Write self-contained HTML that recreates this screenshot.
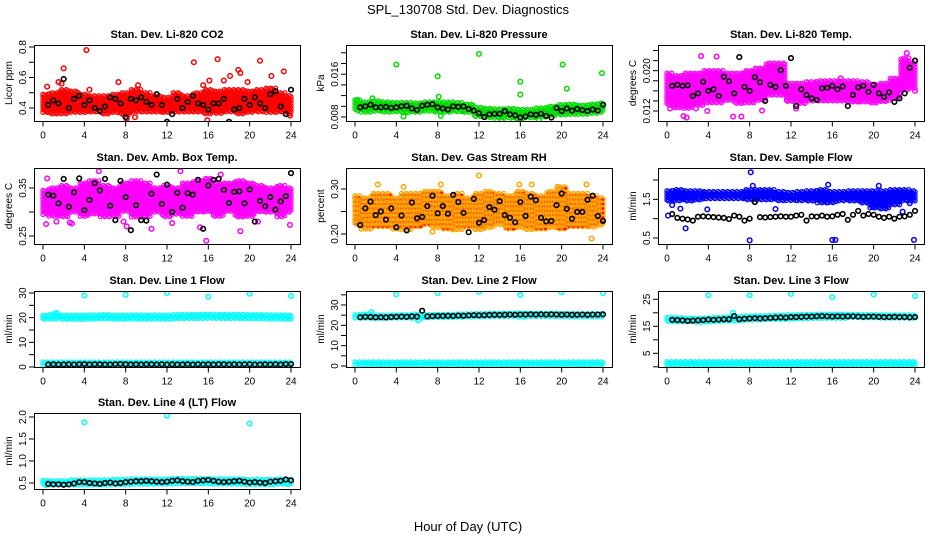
<!DOCTYPE html>
<html><head><meta charset="utf-8"><title>SPL_130708 Std. Dev. Diagnostics</title>
<style>
html,body{margin:0;padding:0;background:#fff;}
svg{display:block;font-family:"Liberation Sans",Arial,sans-serif;}
</style></head>
<body>
<svg id="chart" width="936" height="540" viewBox="0 0 936 540">
<text x="468" y="14" text-anchor="middle" font-size="13">SPL_130708  Std. Dev. Diagnostics</text>
<text x="468" y="531" text-anchor="middle" font-size="13">Hour of Day (UTC)</text>
</svg>
<script>
// ---------- data ----------
const hours = [0,4,8,12,16,20,24];

const co2Lo = [0.37,0.36,0.36,0.37,0.37,0.37,0.36,0.37,0.35,0.37,0.37,0.37,0.37,0.37,0.37,0.37,0.36,0.36,0.37,0.36,0.37,0.37,0.37,0.37,0.36];
const co2Hi = [0.49,0.50,0.52,0.51,0.49,0.48,0.48,0.49,0.50,0.52,0.50,0.48,0.47,0.50,0.48,0.50,0.52,0.51,0.52,0.52,0.51,0.52,0.53,0.50,0.48];
const co2Out = [[0.4,0.54],[1.5,0.57],[1.8,0.56],[2.0,0.66],[4.2,0.78],[4.5,0.52],[7.3,0.57],[8.1,0.33],[8.9,0.34],[9.2,0.55],[14.6,0.70],[15.5,0.55],[15.9,0.32],[16.1,0.58],[16.9,0.72],[17.5,0.58],[18.1,0.61],[18.9,0.65],[19.1,0.63],[19.8,0.57],[21.0,0.71],[22.1,0.61],[23.3,0.64],[23.9,0.35]];
const co2Black = [0.42,0.45,0.43,0.59,0.40,0.46,0.48,0.42,0.45,0.40,0.38,0.41,0.47,0.46,0.43,0.34,0.46,0.45,0.47,0.44,0.42,0.49,0.42,0.31,0.36,0.46,0.40,0.44,0.48,0.43,0.42,0.39,0.43,0.43,0.46,0.31,0.39,0.40,0.46,0.42,0.47,0.43,0.40,0.49,0.51,0.41,0.36,0.52];

const presLo = [.0090,.0088,.0090,.0088,.0090,.0088,.0088,.0090,.0089,.0088,.0089,.0088,.0080,.0079,.0078,.0078,.0077,.0078,.0080,.0082,.0084,.0085,.0085,.0087,.0088];
const presHi = [.0112,.0108,.0110,.0108,.0107,.0107,.0106,.0108,.0108,.0108,.0107,.0104,.0098,.0096,.0095,.0096,.0094,.0094,.0097,.0100,.0103,.0104,.0102,.0104,.0106];
const presOut = [[4,0.0178],[8,0.0156],[8.1,0.0118],[12,0.0198],[16,0.0146],[16,0.0122],[20.1,0.0178],[20.5,0.0133],[23.9,0.0162],[1.7,0.0115],[0.2,0.0112],[14.2,0.0073],[15.3,0.0073],[17.8,0.0074],[8.3,0.0082],[4.7,0.0081]];
const presBlack = [0.0098,0.0100,0.0103,0.0098,0.0098,0.0099,0.0097,0.0098,0.0100,0.0101,0.0096,0.0093,0.0101,0.0103,0.0104,0.0098,0.0096,0.0094,0.0100,0.0099,0.0100,0.0095,0.0092,0.0087,0.0080,0.0085,0.0086,0.0086,0.0091,0.0085,0.0083,0.0079,0.0081,0.0085,0.0084,0.0086,0.0082,0.0079,0.0097,0.0091,0.0096,0.0092,0.0095,0.0093,0.0091,0.0094,0.0092,0.0103];

const tempLo = [.0130,.0125,.0125,.0130,.0135,.0135,.0140,.0135,.0135,.0140,.0150,.0150,.0138,.0135,.0140,.0140,.0140,.0140,.0138,.0138,.0135,.0138,.0145,.0160,.0165];
const tempHi = [.0195,.0190,.0195,.0195,.0200,.0200,.0195,.0195,.0200,.0205,.0215,.0215,.0175,.0175,.0178,.0180,.0180,.0180,.0180,.0178,.0172,.0175,.0185,.0225,.0215];
const tempOut = [[0.3,0.0125],[1.6,0.0110],[1.9,0.0107],[3.3,0.0229],[4.8,0.0228],[6.4,0.0109],[7.2,0.0109],[8.2,0.0155],[9.2,0.0121],[12.5,0.0125],[16.8,0.0185],[23.2,0.0235],[24,0.0160],[2.8,0.0125],[3.9,0.0120]];
const tempBlack = [0.0170,0.0172,0.0170,0.0171,0.0150,0.0155,0.0178,0.0160,0.0163,0.0150,0.0188,0.0179,0.0155,0.0227,0.0168,0.0160,0.0187,0.0177,0.0140,0.0172,0.0168,0.0201,0.0170,0.0225,0.0130,0.0163,0.0152,0.0145,0.0142,0.0165,0.0166,0.0170,0.0163,0.0169,0.0130,0.0152,0.0167,0.0170,0.0158,0.0172,0.0155,0.0148,0.0157,0.0138,0.0145,0.0155,0.0206,0.0220];

const ambLo = [0.295,0.29,0.29,0.30,0.29,0.295,0.29,0.29,0.30,0.29,0.29,0.30,0.29,0.295,0.29,0.30,0.30,0.29,0.30,0.29,0.29,0.30,0.30,0.29,0.30];
const ambHi = [0.345,0.35,0.355,0.35,0.36,0.365,0.355,0.35,0.36,0.365,0.36,0.35,0.355,0.35,0.36,0.365,0.37,0.36,0.36,0.365,0.36,0.355,0.35,0.355,0.35];
const ambOut = [[0.3,0.275],[1.3,0.28],[2.6,0.278],[2.8,0.276],[5.4,0.385],[7.8,0.28],[8.1,0.27],[10.5,0.265],[12.5,0.277],[13.3,0.385],[15.2,0.268],[15.8,0.24],[17.2,0.378],[19.1,0.26],[20.8,0.28],[23.9,0.273],[0.4,0.37]];
const ambBlack = [0.336,0.334,0.318,0.369,0.311,0.341,0.370,0.304,0.325,0.360,0.345,0.369,0.313,0.283,0.365,0.331,0.262,0.314,0.283,0.282,0.338,0.378,0.317,0.357,0.300,0.340,0.309,0.339,0.336,0.367,0.265,0.355,0.367,0.369,0.346,0.319,0.342,0.343,0.318,0.347,0.280,0.323,0.312,0.331,0.305,0.322,0.333,0.381];

const rhLo = [0.22,0.21,0.215,0.215,0.21,0.21,0.215,0.22,0.215,0.21,0.21,0.215,0.21,0.215,0.22,0.21,0.215,0.21,0.21,0.215,0.21,0.215,0.215,0.215,0.22];
const rhHi = [0.285,0.28,0.29,0.29,0.28,0.29,0.29,0.295,0.295,0.285,0.29,0.28,0.29,0.295,0.29,0.285,0.295,0.29,0.285,0.295,0.305,0.29,0.29,0.285,0.28];
const rhOut = [[2.2,0.31],[4.7,0.305],[8.3,0.31],[9.5,0.21],[12,0.33],[15.9,0.31],[17.1,0.31],[19.6,0.305],[22.4,0.31],[22.9,0.19],[7.5,0.205]];
const rhBlack = [0.22,0.257,0.272,0.242,0.250,0.232,0.257,0.215,0.241,0.208,0.270,0.235,0.238,0.262,0.285,0.246,0.262,0.245,0.287,0.271,0.247,0.204,0.278,0.225,0.231,0.260,0.254,0.273,0.242,0.236,0.226,0.271,0.240,0.283,0.275,0.236,0.228,0.229,0.264,0.290,0.256,0.234,0.249,0.249,0.276,0.285,0.240,0.229];

const sfLo = [1.45,1.45,1.45,1.48,1.50,1.50,1.50,1.50,1.48,1.48,1.48,1.45,1.45,1.45,1.45,1.40,1.40,1.45,1.45,1.40,1.28,1.25,1.35,1.45,1.45];
const sfHi = [1.72,1.75,1.72,1.72,1.70,1.70,1.70,1.70,1.75,1.75,1.75,1.70,1.68,1.70,1.72,1.75,1.70,1.70,1.72,1.72,1.72,1.72,1.75,1.75,1.72];
const sfOut = [[0.1,1.08],[0.5,1.35],[1.3,1.26],[1.8,0.75],[3.9,1.24],[8,0.44],[8.1,2.2],[8.3,1.85],[10.5,1.25],[16,0.45],[16.3,0.45],[15.6,1.88],[19.9,1.30],[20.5,1.85],[22.8,1.18],[23.9,0.45],[23.5,1.40]];
const sfBlack = [1.12,1.02,1.00,0.98,0.95,1.05,1.06,1.05,1.04,1.03,1.02,0.99,1.08,1.05,0.95,1.00,1.43,1.04,1.03,1.04,1.05,1.06,1.05,1.05,1.08,1.10,0.95,1.06,1.05,1.08,1.05,1.06,1.10,1.12,0.97,1.10,1.20,1.08,1.12,1.10,1.05,1.02,1.05,1.00,1.05,1.06,1.10,1.20];

const l1HighLo = [19.3,19.2,19.2,19.3,19.2,19.3,19.2,19.1,19.2,19.2,19.2,19.3,19.2,19.3,19.4,19.4,19.5,19.4,19.4,19.4,19.3,19.3,19.3,19.3,19.3];
const l1HighHi = [21.0,21.5,21.0,21.0,21.0,21.1,21.2,21.0,21.0,21.1,21.0,21.1,21.0,21.2,21.3,21.3,21.4,21.3,21.3,21.3,21.2,21.2,21.1,21.1,21.0];
const l1LowLo = [0.4,0.4,0.4,0.4,0.4,0.4,0.4,0.4,0.4,0.4,0.4,0.4,0.4,0.4,0.4,0.4,0.4,0.4,0.4,0.4,0.4,0.4,0.4,0.4,0.4];
const l1LowHi = [2.0,2.0,2.0,2.0,2.0,2.0,2.0,2.0,2.0,2.0,2.0,2.0,2.0,2.0,2.0,2.0,2.0,2.0,2.0,2.0,2.0,2.0,2.0,2.0,2.0];
const l1Out = [[1.3,22],[4,29],[8,29.3],[12,30],[16,28.5],[20,29.7],[24,28.8]];
const l1Black = [1.0,1.1,1.0,1.0,1.1,1.0,1.1,1.2,1.0,1.1,1.1,1.0,1.0,1.1,1.2,1.1,1.0,1.1,1.0,1.1,1.1,1.0,1.1,1.0,1.1,1.0,1.0,1.1,1.0,1.1,1.0,1.1,1.0,1.1,1.1,1.0,1.1,1.0,1.1,1.1,1.0,1.0,1.1,1.0,1.1,1.0,1.2,1.2];

const l2HighLo = [23.4,23.4,23.3,23.3,23.5,23.5,23.4,23.6,23.6,23.7,23.7,23.8,23.9,23.9,24.0,24.0,24.0,24.0,24.0,24.0,23.9,23.9,23.9,23.9,23.9];
const l2HighHi = [25.2,25.5,25.0,25.0,25.1,25.2,25.5,25.3,25.4,25.4,25.5,25.6,25.7,25.8,25.9,25.9,26.0,25.9,25.9,25.9,25.8,25.7,25.7,25.7,25.7];
const l2LowLo = [0.4,0.4,0.4,0.4,0.4,0.4,0.4,0.4,0.4,0.4,0.4,0.4,0.4,0.4,0.4,0.4,0.4,0.4,0.4,0.4,0.4,0.4,0.4,0.4,0.4];
const l2LowHi = [2.0,2.0,2.0,2.0,2.0,2.0,2.0,2.0,2.0,2.0,2.0,2.0,2.0,2.0,2.0,2.0,2.0,2.0,2.0,2.0,2.0,2.0,2.0,2.0,2.0];
const l2Out = [[1.6,26.5],[4,35.3],[6.1,22.5],[8,35.8],[12,36.5],[16,35],[20,36.3],[24,35.8]];
const l2Black = [24.0,24.2,24.1,23.9,24.0,23.9,24.1,24.2,24.3,24.2,24.4,24.3,27.2,24.4,24.5,24.6,24.6,24.7,24.6,24.8,24.7,24.9,25.0,24.9,25.0,25.1,25.2,25.1,25.2,25.3,25.2,25.3,25.3,25.4,25.3,25.4,25.3,25.4,25.3,25.2,25.3,25.2,25.2,25.3,25.2,25.3,25.3,25.4];

const l3HighLo = [16.8,16.7,16.6,16.5,16.6,16.8,17.0,17.0,17.3,17.4,17.5,17.6,17.7,17.8,17.9,18.0,18.0,18.0,18.0,17.9,17.9,17.8,17.8,17.8,17.8];
const l3HighHi = [18.3,18.2,18.0,18.0,18.1,18.3,18.5,18.6,18.8,18.9,19.0,19.1,19.2,19.3,19.4,19.5,19.5,19.5,19.4,19.3,19.3,19.2,19.2,19.2,19.2];
const l3LowLo = [0.3,0.3,0.3,0.3,0.3,0.3,0.3,0.3,0.3,0.3,0.3,0.3,0.3,0.3,0.3,0.3,0.3,0.3,0.3,0.3,0.3,0.3,0.3,0.3,0.3];
const l3LowHi = [1.9,1.9,1.9,1.9,1.9,1.9,1.9,1.9,1.9,1.9,1.9,1.9,1.9,1.9,1.9,1.9,1.9,1.9,1.9,1.9,1.9,1.9,1.9,1.9,1.9];
const l3Out = [[4,26.5],[8,26.5],[12,27],[16,25.8],[20,26.8],[24,26.2],[6.4,20]];
const l3Black = [17.4,17.3,17.2,17.0,17.1,17.2,17.3,17.5,17.4,17.5,17.6,17.6,18.8,17.6,17.8,17.9,18.0,17.9,18.0,18.1,18.2,18.3,18.2,18.4,18.4,18.5,18.6,18.6,18.7,18.8,18.7,18.6,18.7,18.6,18.7,18.7,18.6,18.5,18.6,18.6,18.5,18.4,18.4,18.5,18.4,18.4,18.3,18.4];

const l4Lo = [0.44,0.44,0.44,0.45,0.45,0.45,0.45,0.46,0.46,0.47,0.47,0.47,0.47,0.48,0.48,0.48,0.48,0.47,0.47,0.47,0.46,0.46,0.46,0.46,0.46];
const l4Hi = [0.56,0.55,0.55,0.57,0.57,0.57,0.57,0.58,0.58,0.59,0.59,0.59,0.59,0.60,0.60,0.60,0.60,0.59,0.59,0.59,0.58,0.58,0.58,0.59,0.58];
const l4Out = [[4,1.88],[12,2.03],[20,1.85]];
const l4Black = [0.48,0.47,0.47,0.46,0.47,0.49,0.52,0.52,0.50,0.49,0.48,0.50,0.51,0.49,0.50,0.52,0.53,0.54,0.54,0.55,0.54,0.53,0.52,0.53,0.55,0.56,0.54,0.53,0.52,0.55,0.56,0.57,0.55,0.53,0.52,0.53,0.54,0.55,0.53,0.51,0.52,0.51,0.50,0.53,0.54,0.55,0.58,0.56];

// ---------- panel layout ----------
const panels = [
 {name:'co2',title:'Stan. Dev. Li-820 CO2',ylab:'Licor ppm',col:0,row:0,cal:[0.4,108,0.8,47],ticks:[0.4,0.5,0.6,0.7,0.8],labels:[0.4,0.6,0.8],fmt:1,
  bands:[[co2Lo,co2Hi,'#ff0000']],out:co2Out,outColor:'#ff0000',black:co2Black},
 {name:'pressure',title:'Stan. Dev. Li-820 Pressure',ylab:'kPa',col:1,row:0,cal:[0.008,117,0.016,74.2],ticks:[0.008,0.010,0.012,0.014,0.016,0.018,0.020],labels:[0.008,0.016],fmt:3,
  bands:[[presLo,presHi,'#00dd00']],out:presOut,outColor:'#00dd00',black:presBlack},
 {name:'li820-temp',title:'Stan. Dev. Li-820 Temp.',ylab:'degrees C',col:2,row:0,cal:[0.012,111,0.020,70.7],ticks:[0.012,0.014,0.016,0.018,0.020,0.022,0.024],labels:[0.012,0.020],fmt:3,
  bands:[[tempLo,tempHi,'#ff00ff']],out:tempOut,outColor:'#ff00ff',black:tempBlack},
 {name:'amb-box-temp',title:'Stan. Dev. Amb. Box Temp.',ylab:'degrees C',col:0,row:1,cal:[0.25,236,0.35,188],ticks:[0.25,0.30,0.35],labels:[0.25,0.35],fmt:2,
  bands:[[ambLo,ambHi,'#ff00ff']],out:ambOut,outColor:'#ff00ff',black:ambBlack},
 {name:'gas-stream-rh',title:'Stan. Dev. Gas Stream RH',ylab:'percent',col:1,row:1,cal:[0.20,234,0.30,189],ticks:[0.20,0.25,0.30],labels:[0.20,0.30],fmt:2,
  bands:[[rhLo,rhHi,'#ffa500']],out:rhOut,outColor:'#ffa500',black:rhBlack},
 {name:'sample-flow',title:'Stan. Dev. Sample Flow',ylab:'ml/min',col:2,row:1,cal:[0.5,238,2.0,180],ticks:[0.5,1.0,1.5,2.0],labels:[0.5,1.5],fmt:1,
  bands:[[sfLo,sfHi,'#0000ff']],out:sfOut,outColor:'#0000ff',black:sfBlack},
 {name:'line1-flow',title:'Stan. Dev. Line 1 Flow',ylab:'ml/min',col:0,row:2,cal:[0,367,30,293],ticks:[0,5,10,15,20,25,30],labels:[0,10,20,30],fmt:0,
  bands:[[l1HighLo,l1HighHi,'#00ffff'],[l1LowLo,l1LowHi,'#00ffff']],out:l1Out,outColor:'#00ffff',black:l1Black},
 {name:'line2-flow',title:'Stan. Dev. Line 2 Flow',ylab:'ml/min',col:1,row:2,cal:[0,366,30,305],ticks:[0,5,10,15,20,25,30,35],labels:[0,10,20,30],fmt:0,
  bands:[[l2HighLo,l2HighHi,'#00ffff'],[l2LowLo,l2LowHi,'#00ffff']],out:l2Out,outColor:'#00ffff',black:l2Black},
 {name:'line3-flow',title:'Stan. Dev. Line 3 Flow',ylab:'ml/min',col:2,row:2,cal:[5,353.3,25,299.3],ticks:[0,5,10,15,20,25],labels:[5,15,25],fmt:0,
  bands:[[l3HighLo,l3HighHi,'#00ffff'],[l3LowLo,l3LowHi,'#00ffff']],out:l3Out,outColor:'#00ffff',black:l3Black},
 {name:'line4-flow',title:'Stan. Dev. Line 4 (LT) Flow',ylab:'ml/min',col:0,row:3,cal:[0.5,483,2.0,417],ticks:[0.5,1.0,1.5,2.0],labels:[0.5,1.0,1.5,2.0],fmt:1,
  bands:[[l4Lo,l4Hi,'#00ffff']],out:l4Out,outColor:'#00ffff',black:l4Black}
];
const colLeft=[34,346,658], rowTop=[45,168,291,413], BW=266, BH=76;
const NS='http://www.w3.org/2000/svg';
const svg=document.getElementById('chart');
function mk(tag,attrs,parent){const e=document.createElementNS(NS,tag);for(const k in attrs)e.setAttribute(k,attrs[k]);(parent||svg).appendChild(e);return e;}

panels.forEach(p=>{
  const L=colLeft[p.col], T=rowTop[p.row];
  const xs=v=>L+9+v*(BW-18)/24;
  const ys=v=>p.cal[1]+(v-p.cal[0])*(p.cal[3]-p.cal[1])/(p.cal[2]-p.cal[0]);
  const g=mk('g',{});
  
  
  const clip='clip-'+p.name;
  const cp=mk('clipPath',{id:clip},g); mk('rect',{x:L,y:T,width:BW,height:BH},cp);
  const marks=mk('g',{'clip-path':'url(#'+clip+')'},g);
  p.bands.forEach((b,bi)=>{
    const bg=mk('g',{fill:'none',stroke:b[2],'stroke-width':1.2},marks);
    
    
    for(let x=0;x<=24.001;x+=0.15){
      const h=Math.min(24,Math.round(x));
      const y1=ys(b[0][h]), y2=ys(b[1][h]);
      const top=Math.min(y1,y2), bot=Math.max(y1,y2);
      const k=Math.round(x/0.15);
      for(let yy=top+(k%3)*1.0;yy<=bot;yy+=3.0){
        mk('circle',{cx:xs(x).toFixed(1),cy:yy.toFixed(1),r:2.1},bg);
      }
      if(p.name==='gas-stream-rh'){
        for(let yy=top+1.5;yy<=bot;yy+=4.5){mk('circle',{cx:xs(x).toFixed(1),cy:yy.toFixed(1),r:0.7,stroke:'#ff0000'},bg);}
      }
    }
  });
  const og=mk('g',{fill:'none',stroke:p.outColor,'stroke-width':1.5},marks);
  
  
  p.out.forEach(o=>{mk('circle',{cx:xs(o[0]),cy:ys(o[1]),r:2.3},og);});
  const kg=mk('g',{fill:'none',stroke:'#000','stroke-width':1.6},marks);
  
  
  p.black.forEach((v,i)=>{mk('circle',{cx:xs((i+1)*24/p.black.length),cy:ys(v),r:2.3},kg);});
  const box=mk('rect',{x:L+0.5,y:T+0.5,width:BW,height:BH,fill:'none',stroke:'#000','stroke-width':1},g);
  
  
  const t=mk('text',{x:L+BW/2,y:T-7,'text-anchor':'middle','font-size':11,'font-weight':'bold'},g);
  t.textContent=p.title;
  
  
  const xa=mk('g',{stroke:'#000','stroke-width':1},g);
  
  
  const yb=T+BH+0.5;
  hours.forEach(h=>{
    mk('line',{x1:xs(h),x2:xs(h),y1:yb,y2:yb+5},xa);
    const tx=mk('text',{x:xs(h),y:yb+17,'text-anchor':'middle','font-size':10,stroke:'none',fill:'#000'},xa);
    tx.textContent=String(h);
  });
  const ya=mk('g',{stroke:'#000','stroke-width':1},g);
  
  
  p.ticks.forEach(v=>{const y=ys(v);if(y<T-1||y>T+BH+1)return;mk('line',{x1:L-5,x2:L+0.5,y1:y,y2:y},ya);});
  p.labels.forEach(v=>{
    const y=ys(v);
    const tx=mk('text',{x:L-8,y:y,'text-anchor':'middle','font-size':10,stroke:'none',fill:'#000',transform:'rotate(-90 '+(L-8)+' '+y+')'},ya);
    tx.textContent=v.toFixed(p.fmt);
  });
  const yl=mk('text',{x:L-22,y:T+BH/2,'text-anchor':'middle','font-size':10,transform:'rotate(-90 '+(L-22)+' '+(T+BH/2)+')'},g);
  yl.textContent=p.ylab;
  
  
});
</script>
</body></html>
